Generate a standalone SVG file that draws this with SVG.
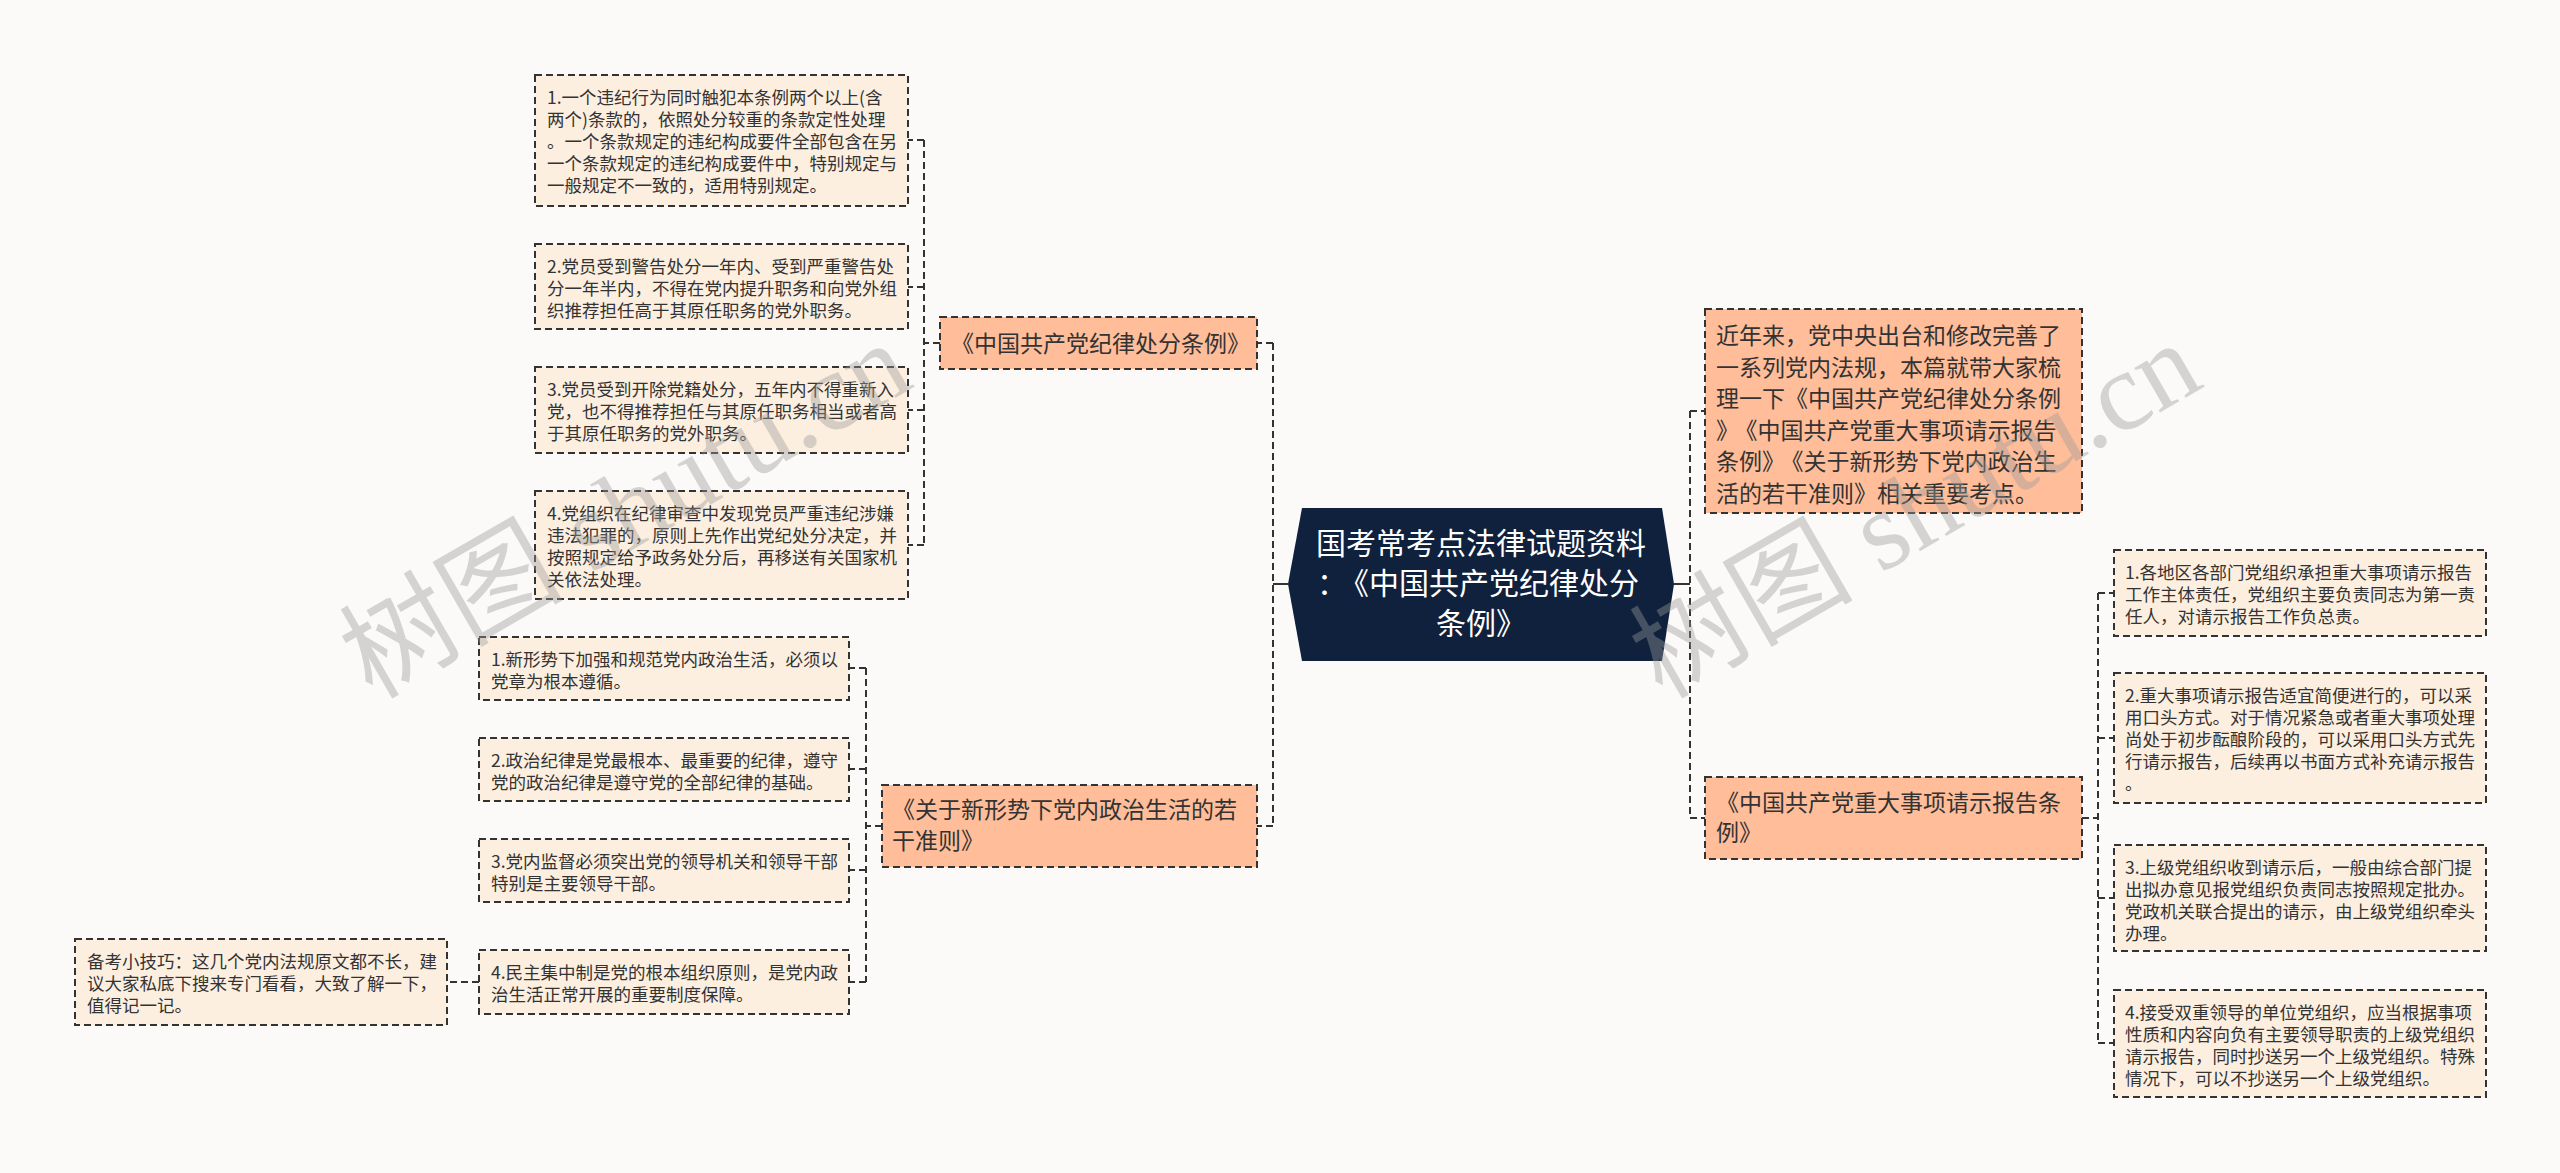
<svg xmlns="http://www.w3.org/2000/svg" width="2560" height="1173" viewBox="0 0 2560 1173">
<style>
.leaf{fill:#FDEFE0;stroke:#333;stroke-width:2;stroke-dasharray:7 4}
.branch{fill:#FFBD99;stroke:#333;stroke-width:2;stroke-dasharray:7 4}
.lt{font-family:"Noto Sans CJK SC","Noto Sans",sans-serif;font-size:17.5px;fill:#333}
.bt{font-family:"Noto Sans CJK SC","Noto Sans",sans-serif;font-size:23px;fill:#333}
.mt{font-family:"Noto Sans CJK SC","Noto Sans",sans-serif;font-size:30px;fill:#fff;text-anchor:middle}
.dash{fill:none;stroke:#333;stroke-width:2;stroke-dasharray:7 4}
.solid{fill:none;stroke:#333;stroke-width:2}
.wm{font-family:"Liberation Serif","Noto Sans CJK SC",serif;font-size:112px;fill:#9a9a9a;opacity:0.4}
</style>
<rect width="2560" height="1173" fill="#FCFAF9"/>
<g id="connectors">
<path class="dash" d="M940,343 H924 M924,140 V545 M924,140 H908 M924,287 H908 M924,410 H908 M924,545 H908"/>
<path class="solid" d="M1288,584 H1273"/>
<path class="dash" d="M1273,343 V826 M1273,343 H1257 M1273,826 H1257"/>
<path class="dash" d="M882,826 H866 M866,668 V982 M866,668 H849 M866,769 H849 M866,870 H849 M866,982 H849"/>
<path class="dash" d="M479,982 H447"/>
<path class="solid" d="M1674,584 H1690"/>
<path class="dash" d="M1690,411 V818 M1690,411 H1705 M1690,818 H1705"/>
<path class="dash" d="M2082,818 H2098 M2098,593 V1043 M2098,593 H2114 M2098,738 H2114 M2098,898 H2114 M2098,1043 H2114"/>
</g>
<g id="main">
<polygon points="1302,508 1662,508 1674,584 1662,661 1302,661 1288,584" fill="#0F213C"/>
<text class="mt" x="1481" y="554">国考常考点法律试题资料</text>
<text class="mt" x="1478" y="594">：<tspan dx="7">《中国共产党纪律处分</tspan></text>
<text class="mt" x="1481" y="634">条例》</text>
</g>
<g id="b1">
<rect class="branch" x="940" y="317" width="317" height="52"/>
<text class="bt" x="951" y="352">《中国共产党纪律处分条例》</text>
</g>
<g id="l1">
<rect class="leaf" x="535" y="75" width="373" height="131"/>
<text class="lt"><tspan x="547" y="104">1.一个违纪行为同时触犯本条例两个以上(含</tspan><tspan x="547" y="126">两个)条款的，依照处分较重的条款定性处理</tspan><tspan x="547" y="148">。一个条款规定的违纪构成要件全部包含在另</tspan><tspan x="547" y="170">一个条款规定的违纪构成要件中，特别规定与</tspan><tspan x="547" y="192">一般规定不一致的，适用特别规定。</tspan></text>
</g>
<g id="l2">
<rect class="leaf" x="535" y="244" width="373" height="85"/>
<text class="lt"><tspan x="547" y="273">2.党员受到警告处分一年内、受到严重警告处</tspan><tspan x="547" y="295">分一年半内，不得在党内提升职务和向党外组</tspan><tspan x="547" y="317">织推荐担任高于其原任职务的党外职务。</tspan></text>
</g>
<g id="l3">
<rect class="leaf" x="535" y="367" width="373" height="86"/>
<text class="lt"><tspan x="547" y="396">3.党员受到开除党籍处分，五年内不得重新入</tspan><tspan x="547" y="418">党，也不得推荐担任与其原任职务相当或者高</tspan><tspan x="547" y="440">于其原任职务的党外职务。</tspan></text>
</g>
<g id="l4">
<rect class="leaf" x="535" y="491" width="373" height="108"/>
<text class="lt"><tspan x="547" y="520">4.党组织在纪律审查中发现党员严重违纪涉嫌</tspan><tspan x="547" y="542">违法犯罪的，原则上先作出党纪处分决定，并</tspan><tspan x="547" y="564">按照规定给予政务处分后，再移送有关国家机</tspan><tspan x="547" y="586">关依法处理。</tspan></text>
</g>
<g id="b2">
<rect class="branch" x="882" y="785" width="375" height="82"/>
<text class="bt"><tspan x="892" y="818">《关于新形势下党内政治生活的若</tspan><tspan x="892" y="849">干准则》</tspan></text>
</g>
<g id="c1">
<rect class="leaf" x="479" y="637" width="370" height="63"/>
<text class="lt"><tspan x="491" y="666">1.新形势下加强和规范党内政治生活，必须以</tspan><tspan x="491" y="688">党章为根本遵循。</tspan></text>
</g>
<g id="c2">
<rect class="leaf" x="479" y="738" width="370" height="63"/>
<text class="lt"><tspan x="491" y="767">2.政治纪律是党最根本、最重要的纪律，遵守</tspan><tspan x="491" y="789">党的政治纪律是遵守党的全部纪律的基础。</tspan></text>
</g>
<g id="c3">
<rect class="leaf" x="479" y="839" width="370" height="63"/>
<text class="lt"><tspan x="491" y="868">3.党内监督必须突出党的领导机关和领导干部</tspan><tspan x="491" y="890">特别是主要领导干部。</tspan></text>
</g>
<g id="c4">
<rect class="leaf" x="479" y="950" width="370" height="64"/>
<text class="lt"><tspan x="491" y="979">4.民主集中制是党的根本组织原则，是党内政</tspan><tspan x="491" y="1001">治生活正常开展的重要制度保障。</tspan></text>
</g>
<g id="tip">
<rect class="leaf" x="75" y="939" width="372" height="86"/>
<text class="lt"><tspan x="87" y="968">备考小技巧：这几个党内法规原文都不长，建</tspan><tspan x="87" y="990">议大家私底下搜来专门看看，大致了解一下，</tspan><tspan x="87" y="1012">值得记一记。</tspan></text>
</g>
<g id="intro">
<rect class="branch" x="1705" y="309" width="377" height="204"/>
<text class="bt"><tspan x="1716" y="344">近年来，党中央出台和修改完善了</tspan><tspan x="1716" y="375.5">一系列党内法规，本篇就带大家梳</tspan><tspan x="1716" y="407">理一下《中国共产党纪律处分条例</tspan><tspan x="1716" y="438.5">》</tspan><tspan dx="7">《中国共产党重大事项请示报告</tspan><tspan x="1716" y="470">条例》</tspan><tspan dx="7">《关于新形势下党内政治生</tspan><tspan x="1716" y="501.5">活的若干准则》相关重要考点。</tspan></text>
</g>
<g id="b3">
<rect class="branch" x="1705" y="777" width="377" height="82"/>
<text class="bt"><tspan x="1716" y="811">《中国共产党重大事项请示报告条</tspan><tspan x="1716" y="841">例》</tspan></text>
</g>
<g id="r1">
<rect class="leaf" x="2114" y="550" width="372" height="86"/>
<text class="lt"><tspan x="2125" y="579">1.各地区各部门党组织承担重大事项请示报告</tspan><tspan x="2125" y="601">工作主体责任，党组织主要负责同志为第一责</tspan><tspan x="2125" y="623">任人，对请示报告工作负总责。</tspan></text>
</g>
<g id="r2">
<rect class="leaf" x="2114" y="673" width="372" height="130"/>
<text class="lt"><tspan x="2125" y="702">2.重大事项请示报告适宜简便进行的，可以采</tspan><tspan x="2125" y="724">用口头方式。对于情况紧急或者重大事项处理</tspan><tspan x="2125" y="746">尚处于初步酝酿阶段的，可以采用口头方式先</tspan><tspan x="2125" y="768">行请示报告，后续再以书面方式补充请示报告</tspan><tspan x="2125" y="790">。</tspan></text>
</g>
<g id="r3">
<rect class="leaf" x="2114" y="845" width="372" height="106"/>
<text class="lt"><tspan x="2125" y="874">3.上级党组织收到请示后，一般由综合部门提</tspan><tspan x="2125" y="896">出拟办意见报党组织负责同志按照规定批办。</tspan><tspan x="2125" y="918">党政机关联合提出的请示，由上级党组织牵头</tspan><tspan x="2125" y="940">办理。</tspan></text>
</g>
<g id="r4">
<rect class="leaf" x="2114" y="990" width="372" height="107"/>
<text class="lt"><tspan x="2125" y="1019">4.接受双重领导的单位党组织，应当根据事项</tspan><tspan x="2125" y="1041">性质和内容向负有主要领导职责的上级党组织</tspan><tspan x="2125" y="1063">请示报告，同时抄送另一个上级党组织。特殊</tspan><tspan x="2125" y="1085">情况下，可以不抄送另一个上级党组织。</tspan></text>
</g>
<g id="watermarks">
<text class="wm" transform="translate(372,700) rotate(-30)">树图 shutu.cn</text>
<text class="wm" transform="translate(1662,700) rotate(-30)">树图 shutu.cn</text>
</g>
</svg>
